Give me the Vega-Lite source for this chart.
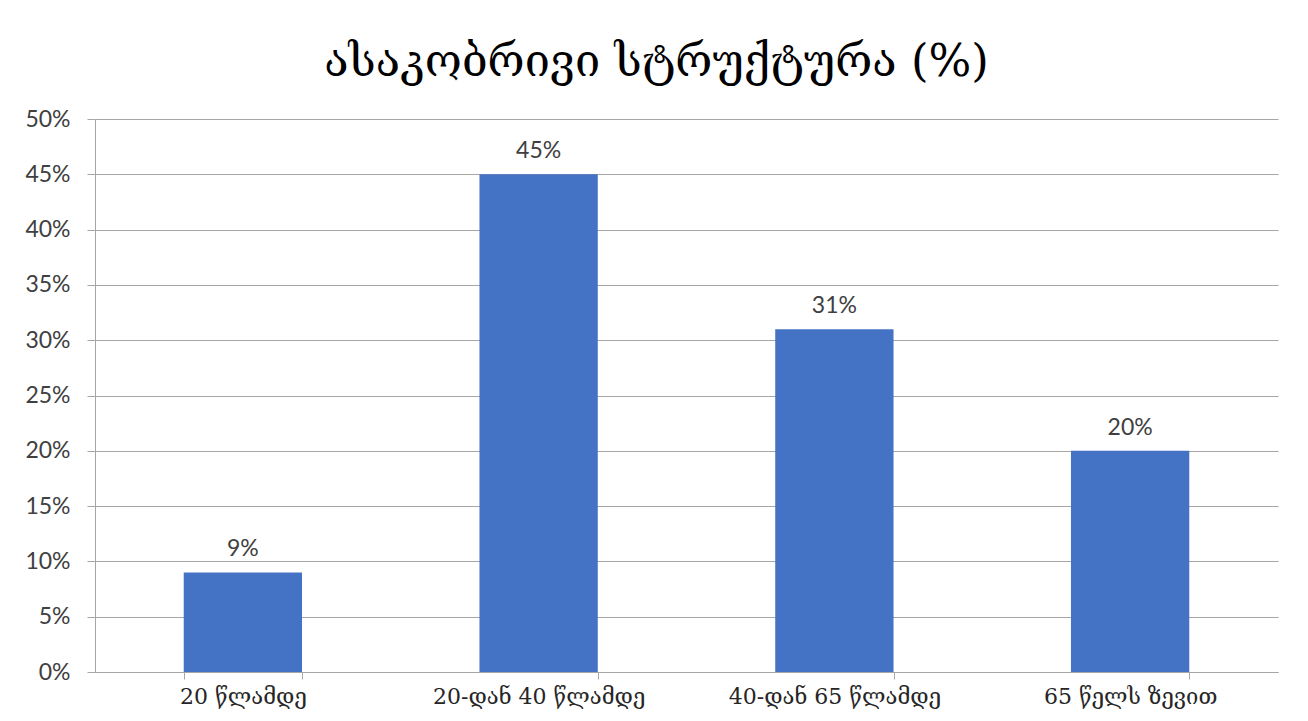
{
  "$schema": "https://vega.github.io/schema/vega-lite/v6.json",
  "width": 1183,
  "height": 553,
  "autosize": {"type": "none"},
  "padding": {"left": 95, "top": 119, "right": 30, "bottom": 49},
  "background": "white",
  "config": {"view": {"stroke": null}},
  "title": {
    "text": "ასაკობრივი სტრუქტურა (%)",
    "font": "DejaVu Serif",
    "fontSize": 45,
    "fontWeight": "normal",
    "color": "#000000",
    "anchor": "middle",
    "dx": -30,
    "offset": 23
  },
  "data": {
    "values": [
      {"category": "20 წლამდე", "value": 0.09},
      {"category": "20-დან 40 წლამდე", "value": 0.45},
      {"category": "40-დან 65 წლამდე", "value": 0.31},
      {"category": "65 წელს ზევით", "value": 0.20}
    ]
  },
  "encoding": {
    "x": {
      "field": "category",
      "type": "nominal",
      "sort": null,
      "scale": {"paddingInner": 0.6, "paddingOuter": 0.3},
      "axis": {
        "title": null,
        "labelAngle": 0,
        "labelLimit": 0,
        "labelFont": "DejaVu Serif",
        "labelFontSize": 22,
        "labelColor": "#262626",
        "labelPadding": 7,
        "tickBand": "extent",
        "tickSize": 7,
        "tickColor": "#a6a6a6",
        "domainColor": "#a6a6a6",
        "grid": false
      }
    },
    "y": {
      "field": "value",
      "type": "quantitative",
      "scale": {"domain": [0, 0.5]},
      "axis": {
        "title": null,
        "values": [0, 0.05, 0.1, 0.15, 0.2, 0.25, 0.3, 0.35, 0.4, 0.45, 0.5],
        "format": ".0%",
        "labelFont": "Lato",
        "labelFontSize": 23,
        "labelColor": "#404040",
        "labelPadding": 17,
        "tickSize": 8,
        "tickColor": "#a6a6a6",
        "domainColor": "#a6a6a6",
        "gridColor": "#a6a6a6",
        "gridWidth": 1
      }
    }
  },
  "layer": [
    {"mark": {"type": "bar", "color": "#4472C4"}},
    {
      "mark": {
        "type": "text",
        "baseline": "bottom",
        "dy": -11,
        "font": "Lato",
        "fontSize": 23,
        "color": "#404040"
      },
      "encoding": {"text": {"field": "value", "type": "quantitative", "format": ".0%"}}
    }
  ]
}
